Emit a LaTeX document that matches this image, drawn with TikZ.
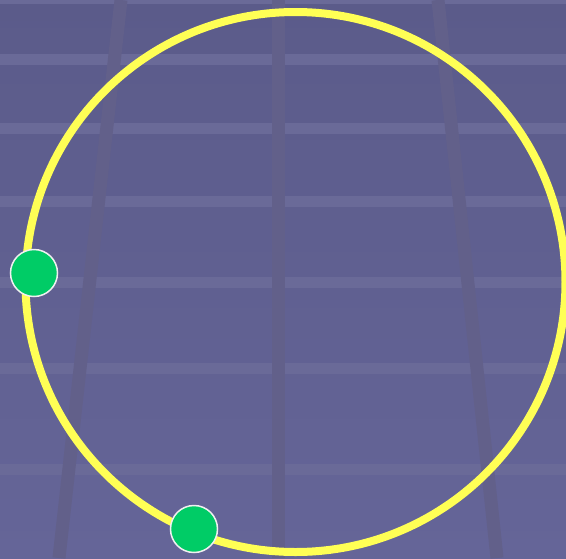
\documentclass[tikz,border=0pt]{standalone}
\usepackage{tikz}
\usetikzlibrary{positioning}
\definecolor{bgtop}{RGB}{91,91,138}
\definecolor{bgbot}{RGB}{101,101,152}
\definecolor{hline}{RGB}{106,106,152}
\definecolor{vline}{RGB}{98,96,138}
\definecolor{ringyellow}{RGB}{255,255,85}
\definecolor{dotgreen}{RGB}{0,204,102}
\tikzset{
  band/.style={line width=11pt,hline},
  post/.style={line width=13pt,vline},
  dot/.style={circle,fill=dotgreen,draw=white!88!gray,line width=1.5pt,minimum size=47pt,inner sep=0pt}
}

\begin{document}
\begin{tikzpicture}[x=1pt,y=-1pt]
  \useasboundingbox (0,0) rectangle (566,558);
  \clip (0,0) rectangle (566,558);
  \shade[top color=bgtop,bottom color=bgbot] (0,0) rectangle (566,558);
  % floor lines
  \foreach \y in {-2,59,128,201,282,368,469}
    \draw[band] (0,\y) -- (566,\y);
  \draw[post] (121,0) -- (59,558);
  \draw[post] (278.5,0) -- (278.5,558);
  \draw[post] (438,0) -- (497,558);
  % ring with the two points
  \coordinate (ctr) at (295.5,282);
  \draw[ringyellow,line width=8pt] (ctr) circle[radius=270pt];
  \node[dot] (p1) at (34,273) {};
  \node[dot] (p2) at (194,529) {};
\end{tikzpicture}
\end{document}
